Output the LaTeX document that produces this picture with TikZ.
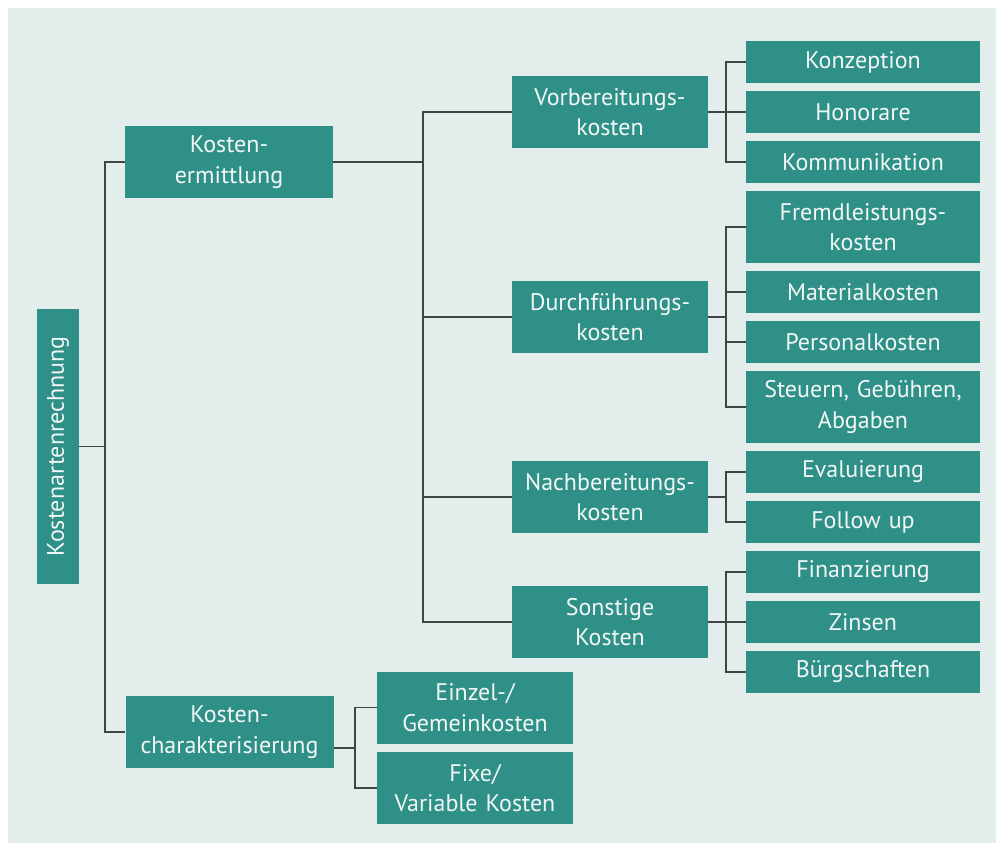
\documentclass[tikz,border=0pt]{standalone}
\usepackage{fontspec}
\setmainfont{PT Sans}
\definecolor{boxteal}{HTML}{2E9087}
\definecolor{panel}{HTML}{E3EDEC}
\definecolor{wire}{HTML}{3F4444}
\definecolor{boxtext}{HTML}{F2F7F6}
\tikzset{
  box/.style={fill=boxteal, text=boxtext, font=\fontsize{18}{23}\selectfont,
    align=center, inner sep=0pt, minimum height=31.5pt},
  twoline/.style={minimum height=54pt},
  topbox/.style={box, minimum width=156pt, text width=150pt},
  midbox/.style={box, minimum width=147pt, text width=140pt},
  leafbox/.style={box, minimum width=175.5pt, text width=170pt},
  wire/.style={draw=wire, line width=0.9pt}
}
\begin{document}
\begin{tikzpicture}[x=0.75pt, y=-0.75pt]
\useasboundingbox (0,0) rectangle (996,843);
\fill[white] (0,0) rectangle (996,843);
\fill[panel] (8,8) rectangle (996,843);

% root
\node[box, rotate=90, minimum width=206.25pt] (root) at (58,446.5) {Kostenartenrechnung};

% first level
\node[topbox, twoline] (kerm) at (229,162) {Kosten-\\ermittlung};
\node[topbox, twoline] (kchar) at (229.5,732) {Kosten-\\charakterisierung};

% second level
\node[midbox, twoline] (vorb) at (610,112) {Vorbereitungs-\\kosten};
\node[midbox, twoline] (durch) at (610,317) {Durchführungs-\\kosten};
\node[midbox, twoline] (nach) at (610,497) {Nachbereitungs-\\kosten};
\node[midbox, twoline] (sonst) at (610,622) {Sonstige\\Kosten};
\node[midbox, twoline] (einz) at (475,707.5) {Einzel-/\\Gemeinkosten};
\node[midbox, twoline] (fixe) at (475,788) {Fixe/\\Variable Kosten};

% leaves
\node[leafbox] (konz) at (863,62) {Konzeption};
\node[leafbox] (hon) at (863,112) {Honorare};
\node[leafbox] (komm) at (863,162) {Kommunikation};
\node[leafbox, twoline] (fremd) at (863,227) {Fremdleistungs-\\kosten};
\node[leafbox] (mat) at (863,292) {Materialkosten};
\node[leafbox] (pers) at (863,342) {Personalkosten};
\node[leafbox, twoline] (steu) at (863,407) {Steuern, Gebühren,\\Abgaben};
\node[leafbox] (eval) at (863,472) {Evaluierung};
\node[leafbox] (follow) at (863,522) {Follow up};
\node[leafbox] (finan) at (863,572) {Finanzierung};
\node[leafbox] (zins) at (863,622) {Zinsen};
\node[leafbox] (buerg) at (863,672) {Bürgschaften};

% connectors
\coordinate (busroot) at (105,446.5);
\coordinate (buskerm) at (423,162);
\coordinate (buskchar) at (355,748);
\coordinate (busvorb) at (726,112);
\coordinate (busdurch) at (726,317);
\coordinate (busnach) at (726,497);
\coordinate (bussonst) at (726,622);

\draw[wire] (root.south) -- (busroot);
\draw[wire] (kerm.west) -| (busroot) |- (kchar.west);
\draw[wire] (kerm.east) -- (buskerm);
\foreach \n in {vorb,durch,nach,sonst}
\draw[wire] (buskerm) |- (\n.west);
\draw[wire] (kchar.east |- buskchar) -- (buskchar);
\foreach \n in {einz,fixe}
\draw[wire] (buskchar) |- (\n.west);
\foreach \p/\kids in {vorb/{konz,hon,komm}, durch/{fremd,mat,pers,steu}, nach/{eval,follow}, sonst/{finan,zins,buerg}}{
\draw[wire] (\p.east) -- (bus\p);
\foreach \n in \kids
\draw[wire] (bus\p) |- (\n.west);
}
\end{tikzpicture}
\end{document}
